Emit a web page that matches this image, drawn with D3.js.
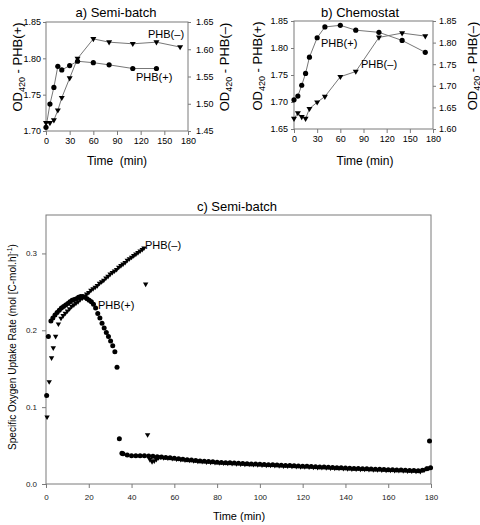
<!DOCTYPE html>
<html><head><meta charset="utf-8">
<script src="https://cdn.jsdelivr.net/npm/d3@7"></script>
<style>body{margin:0;background:#fff} svg{display:block;font-family:"Liberation Sans",Arial,sans-serif}</style>
</head><body><svg id="c" width="480" height="525"></svg>
<script>
// ---------- Panel a) Semi-batch ----------
const aTimePlus  = [0,5,10,15,20,30,40,60,80,110,140];
const aPlus      = [1.705,1.737,1.760,1.789,1.784,1.790,1.796,1.794,1.791,1.786,1.786];
const aTimeMinus = [0,5,10,15,20,30,40,60,80,110,140,170];
const aMinus     = [1.465,1.465,1.470,1.488,1.511,1.547,1.583,1.619,1.613,1.610,1.613,1.604];
const aLeftTicks = [1.70,1.75,1.80,1.85];
const aRightTicks= [1.45,1.50,1.55,1.60,1.65];

// ---------- Panel b) Chemostat ----------
const bTime  = [0,5,10,15,20,30,40,60,80,110,140,170];
const bPlus  = [1.704,1.711,1.731,1.753,1.783,1.819,1.839,1.842,1.833,1.829,1.814,1.792];
const bMinus = [1.624,1.637,1.628,1.624,1.647,1.662,1.675,1.721,1.733,1.812,1.822,1.815];
const bLeftTicks  = [1.65,1.70,1.75,1.80,1.85];
const bRightTicks = [1.60,1.65,1.70,1.75,1.80,1.85];

const abTimeTicks = [0,30,60,90,120,150,180];

// ---------- Panel c) Semi-batch SOUR ----------
const cTimePlus = [0.3,1.1,2.3,3.2,4.2,5.2,6.2,7.2,8.2,9.2,10.2,11.2,12.2,13.2,14.2,15.2,16.2,17.2,18.2,19.2,
  20.2,21.2,22.2,23.2,24.2,25.2,26.2,27.2,28.2,29.2,30.2,31.2,32.2,33.2,34.3,35.5,
  36,38,40,42,44,46,48,50,52,54,56,58,60,62,64,66,68,70,72,74,76,78,80,82,84,86,88,90,92,94,96,98,
  100,102,104,106,108,110,112,114,116,118,120,122,124,126,128,130,132,134,136,138,140,142,144,146,148,
  150,152,154,156,158,160,162,164,166,168,170,172,174,176,178,179.3,179.8];
const cPlus = [0.115,0.192,0.212,0.216,0.220,0.223,0.226,0.229,0.231,0.233,0.235,0.237,0.239,0.240,0.241,0.243,0.244,0.244,0.243,0.241,
  0.239,0.237,0.234,0.229,0.222,0.216,0.209,0.203,0.197,0.192,0.186,0.180,0.172,0.152,0.059,0.040,
  0.0395,0.0378,0.0369,0.0366,0.0367,0.0368,0.0365,0.0361,0.0356,0.0351,0.0346,0.0341,0.0335,0.0329,0.0323,0.0317,0.0311,0.0306,0.0300,0.0296,0.0292,0.0288,0.0284,0.0281,0.0278,0.0275,0.0272,0.0269,0.0266,0.0264,0.0261,0.0259,
  0.0256,0.0254,0.0251,0.0249,0.0247,0.0245,0.0242,0.0240,0.0237,0.0235,0.0232,0.0230,0.0227,0.0225,0.0222,0.0220,0.0217,0.0215,0.0212,0.0210,0.0207,0.0205,0.0203,0.0201,0.0199,
  0.0197,0.0195,0.0193,0.0191,0.0189,0.0187,0.0185,0.0183,0.0181,0.0179,0.0177,0.0175,0.0172,0.0178,0.0200,0.056,0.021];
const cTimeMinus = [0.5,1.5,2.6,3.4,4.5,5.8,7,8,9,10,11,12,13,14,15,16,17,18,19,20,21,22,23,24,25,26,27,28,29,30,
  31,32,33,34,35,36,37,38,39,40,41,42,43,44,45,45.8,46.6,47.5,48.6,49.6,50.6,51.6,52.6,53.6,
  55,57,59,61,63,65,67,69,71,73,75,77,79,81,83,85,87,89,91,93,95,97,99,101,103,105,107,109,111,113,115,117,119,
  121,123,125,127,129,131,133,135,137,139,141,143,145,147,149,151,153,155,157,159,161,163,165,167,169,171,173,175,177,179];
const cMinus = [0.087,0.133,0.164,0.177,0.192,0.208,0.2156,0.219,0.222,0.225,0.228,0.231,0.233,0.235,0.237,0.240,0.242,0.244,0.247,0.249,
  0.252,0.254,0.256,0.258,0.261,0.263,0.265,0.268,0.270,0.273,0.275,0.277,0.279,0.282,0.284,0.286,0.288,0.291,0.293,0.295,
  0.297,0.299,0.301,0.303,0.305,0.307,0.260,0.064,0.0316,0.029,0.030,0.032,0.034,0.0352,
  0.0342,0.0337,0.0331,0.0325,0.0319,0.0313,0.0307,0.0301,0.0296,0.0291,0.0287,0.0283,0.0279,0.0275,0.0272,0.0269,0.0266,0.0263,0.0260,0.0257,0.0255,0.0252,0.0250,0.0247,0.0245,0.0242,0.0240,0.0238,0.0235,0.0233,0.0230,0.0228,0.0225,
  0.0223,0.0220,0.0218,0.0215,0.0213,0.0210,0.0208,0.0205,0.0203,0.0200,0.0198,0.0196,0.0194,0.0192,0.0190,0.0188,0.0186,0.0184,0.0182,0.0180,0.0178,0.0176,0.0174,0.0172,0.0170,0.0168,0.0165,0.0162,0.0185,0.0205];
const cTimeTicks = [0,20,40,60,80,100,120,140,160,180];
const cYTicks = [0.0,0.1,0.2,0.3];

const svg = d3.select("#c");
const triPath = s => `M${-s},${-s*0.6}L${s},${-s*0.6}L0,${s*1.1}Z`;
const FRAME = "#7a7a7a";

function styleAxis(g, color, fs) {
  g.select(".domain").remove();
  g.selectAll(".tick line").attr("stroke", FRAME);
  g.selectAll(".tick text").attr("fill", color).attr("font-size", fs).attr("font-family", "Liberation Sans, Arial, sans-serif");
}

function frame(left, right, top, bottom) {
  svg.append("rect").attr("x", left).attr("y", top).attr("width", right-left).attr("height", bottom-top)
    .attr("fill","none").attr("stroke",FRAME).attr("stroke-width",1);
}

function odLabel(x, y, sign) {
  const t = svg.append("text").attr("transform", `translate(${x},${y}) rotate(-90)`)
    .attr("text-anchor","middle").attr("font-size",13).attr("fill","#000");
  t.append("tspan").text("OD");
  t.append("tspan").attr("font-size",9).attr("dy",3).text("420");
  t.append("tspan").attr("dy",-3).text(" - PHB(" + sign + ")");
}

function smallPanel(o) {
  const x = d3.scaleLinear().domain([0,180]).range([o.left,o.right]);
  const yL = d3.scaleLinear().domain(o.yL).range([o.bottom,o.top]);
  const yR = d3.scaleLinear().domain(o.yR).range([o.bottom,o.top]);
  frame(o.left,o.right,o.top,o.bottom);
  styleAxis(svg.append("g").attr("transform",`translate(0,${o.bottom})`)
    .call(d3.axisBottom(x).tickValues(abTimeTicks).tickSize(4).tickPadding(3).tickFormat(d3.format("d"))), "#000", 9);
  styleAxis(svg.append("g").attr("transform",`translate(${o.left},0)`)
    .call(d3.axisLeft(yL).tickValues(o.lt).tickSize(3).tickPadding(o.lp).tickFormat(d3.format(".2f"))), "#000", 9);
  styleAxis(svg.append("g").attr("transform",`translate(${o.right},0)`)
    .call(d3.axisRight(yR).tickValues(o.rt).tickSize(3).tickPadding(o.rp).tickFormat(d3.format(".2f"))), "#000", 9);

  const line = (ys) => d3.line().x(d=>x(d[0])).y(d=>ys(d[1]));
  const plus = o.tp.map((t,i)=>[t,o.plus[i]]);
  const minus = o.tm.map((t,i)=>[t,o.minus[i]]);
  svg.append("path").datum(plus).attr("d",line(yL)).attr("fill","none").attr("stroke","#777").attr("stroke-width",1);
  svg.append("path").datum(minus).attr("d",line(yR)).attr("fill","none").attr("stroke","#777").attr("stroke-width",1);
  svg.append("g").selectAll("circle").data(plus).join("circle")
    .attr("cx",d=>x(d[0])).attr("cy",d=>yL(d[1])).attr("r",2.6).attr("fill","#000");
  svg.append("g").selectAll("path").data(minus).join("path")
    .attr("transform",d=>`translate(${x(d[0])},${yR(d[1])})`).attr("d",triPath(3)).attr("fill","#000");

  svg.append("text").attr("x",o.titleX).attr("y",17).attr("text-anchor","middle").attr("font-size",13).text(o.title);
  svg.append("text").attr("x",o.timeX).attr("y",165).attr("text-anchor","middle").attr("font-size",12).text(o.timeText);
  odLabel(o.lLabX, o.labY, "+");
  odLabel(o.rLabX, o.labY, "\u2013");
  o.labels.forEach(l => svg.append("text").attr("x",l[0]).attr("y",l[1]).attr("font-size",11).text(l[2]));
}

smallPanel({left:46,right:188,top:22,bottom:131,yL:[1.70,1.85],yR:[1.45,1.65],lt:aLeftTicks,rt:aRightTicks,lp:2,rp:5,
  tp:aTimePlus,plus:aPlus,tm:aTimeMinus,minus:aMinus,title:"a) Semi-batch",titleX:116,timeX:117,timeText:"Time\u00a0 (min)",
  lLabX:21.5,rLabX:228.5,labY:67,labels:[[148,38,"PHB(\u2013)"],[136,81,"PHB(+)"]]});
smallPanel({left:294,right:433,top:21,bottom:129,yL:[1.65,1.85],yR:[1.60,1.85],lt:bLeftTicks,rt:bRightTicks,lp:3,rp:3,
  tp:bTime,plus:bPlus,tm:bTime,minus:bMinus,title:"b) Chemostat",titleX:360,timeX:365,timeText:"Time (min)",
  lLabX:261.5,rLabX:476.5,labY:66,labels:[[321,47,"PHB(+)"],[361,68,"PHB(\u2013)"]]});

// ---------- Panel c ----------
(function(){
  const L=46,R=431,T=215,B=484;
  const x = d3.scaleLinear().domain([0,180]).range([L,R]);
  const y = d3.scaleLinear().domain([0,0.35]).range([B,T]);
  frame(L,R,T,B);
  styleAxis(svg.append("g").attr("transform",`translate(0,${B})`)
    .call(d3.axisBottom(x).tickValues(cTimeTicks).tickSize(4).tickPadding(6).tickFormat(d3.format("d"))), "#222", 8);
  styleAxis(svg.append("g").attr("transform",`translate(${L},0)`)
    .call(d3.axisLeft(y).tickValues(cYTicks).tickSize(4).tickPadding(5).tickFormat(d3.format(".1f"))), "#222", 8);
  const minus = cTimeMinus.map((t,i)=>[t,cMinus[i]]);
  const plus = cTimePlus.map((t,i)=>[t,cPlus[i]]);
  svg.append("g").selectAll("path").data(minus).join("path")
    .attr("transform",d=>`translate(${x(d[0])},${y(d[1])})`).attr("d",triPath(2.7)).attr("fill","#000");
  svg.append("g").selectAll("circle").data(plus).join("circle")
    .attr("cx",d=>x(d[0])).attr("cy",d=>y(d[1])).attr("r",2.5).attr("fill","#000");
  svg.append("text").attr("x",237).attr("y",211).attr("text-anchor","middle").attr("font-size",13).text("c) Semi-batch");
  svg.append("text").attr("x",239).attr("y",520).attr("text-anchor","middle").attr("font-size",11).text("Time (min)");
  const yl = svg.append("text").attr("transform","translate(16,347) rotate(-90)").attr("text-anchor","middle").attr("font-size",10);
  yl.append("tspan").text("Specific Oxygen Uptake Rate (mol [C-mol.h]");
  yl.append("tspan").attr("font-size",7).attr("dy",-4).text("-1");
  yl.append("tspan").attr("dy",4).text(")");
  svg.append("text").attr("x",145).attr("y",249).attr("font-size",11).text("PHB(\u2013)");
  svg.append("text").attr("x",98).attr("y",309).attr("font-size",11).text("PHB(+)");
})();
</script></body></html>
